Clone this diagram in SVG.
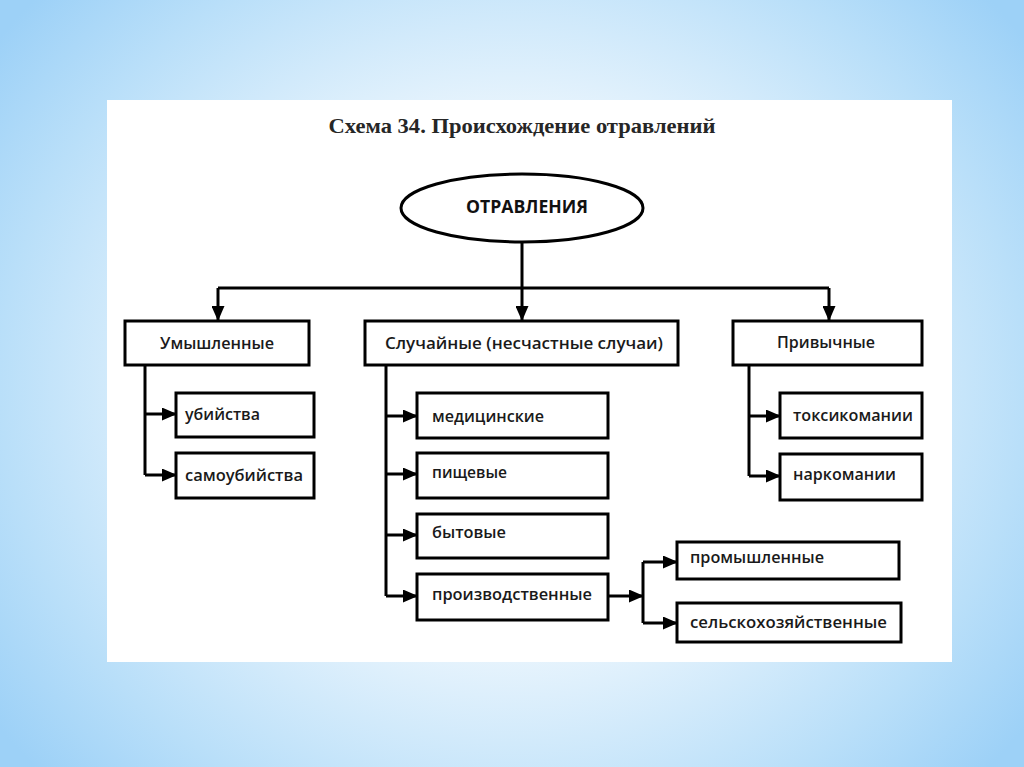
<svg xmlns="http://www.w3.org/2000/svg" width="1024" height="767" viewBox="0 0 1024 767">
<defs>
<radialGradient id="bg" cx="512" cy="383" r="640" gradientUnits="userSpaceOnUse" gradientTransform="translate(512 383) scale(1 0.9) translate(-512 -383)">
<stop offset="0" stop-color="#ffffff"/>
<stop offset="0.45" stop-color="#eaf5fd"/>
<stop offset="0.8" stop-color="#b9dff9"/>
<stop offset="1" stop-color="#9dd1f7"/>
</radialGradient>
<marker id="ah" viewBox="0 0 15 13" refX="14" refY="6.5" markerWidth="15" markerHeight="13" markerUnits="userSpaceOnUse" orient="auto">
<path d="M0,0 L15,6.5 L0,13 Z" fill="#000"/>
</marker>
<style>
.box{fill:#fff;stroke:#000;stroke-width:3}
.ln{fill:none;stroke:#000;stroke-width:3}
.arr{fill:none;stroke:#000;stroke-width:3;marker-end:url(#ah)}
.t{font-family:"Open Sans","Liberation Sans",sans-serif;font-size:16px;font-weight:600;fill:#1a1a1a}
.c{text-anchor:middle}
</style>
</defs>
<rect width="1024" height="767" fill="url(#bg)"/>
<rect x="107" y="100" width="845" height="562" fill="#fff"/>
<text x="522" y="133" text-anchor="middle" font-family="Liberation Serif, serif" font-weight="bold" font-size="21" fill="#262626" textLength="387" lengthAdjust="spacingAndGlyphs">Схема 34. Происхождение отравлений</text>

<g id="connectors">
<path class="ln" d="M218,288 H829"/>
<path class="arr" d="M522,242 V320"/>
<path class="arr" d="M218,288 V320"/>
<path class="arr" d="M829,288 V320"/>
<path class="ln" d="M145,365 V475"/>
<path class="arr" d="M145,414 H176"/>
<path class="arr" d="M145,475 H176"/>
<path class="ln" d="M386,365 V596"/>
<path class="arr" d="M386,416 H417"/>
<path class="arr" d="M386,474 H417"/>
<path class="arr" d="M386,535 H417"/>
<path class="arr" d="M386,596 H417"/>
<path class="arr" d="M608,596 H643"/>
<path class="ln" d="M643,562 V623"/>
<path class="arr" d="M643,562 H677"/>
<path class="arr" d="M643,623 H677"/>
<path class="ln" d="M749,365 V476"/>
<path class="arr" d="M749,416 H780"/>
<path class="arr" d="M749,476 H780"/>
</g>

<g id="root">
<ellipse cx="522" cy="208" rx="121" ry="34" fill="#fff" stroke="#000" stroke-width="3"/>
<text x="527" y="213" text-anchor="middle" font-family="Open Sans, Liberation Sans, sans-serif" font-weight="bold" font-size="18" fill="#111" textLength="122" lengthAdjust="spacingAndGlyphs">ОТРАВЛЕНИЯ</text>
</g>

<g id="n-umysh"><rect class="box" x="125" y="321" width="184" height="44"/><text class="t" x="160" y="349" textLength="114" lengthAdjust="spacingAndGlyphs">Умышленные</text></g>
<g id="n-ubiystva"><rect class="box" x="176" y="393" width="138" height="44"/><text class="t" x="185" y="420" textLength="75" lengthAdjust="spacingAndGlyphs">убийства</text></g>
<g id="n-samoub"><rect class="box" x="176" y="453" width="138" height="45"/><text class="t" x="185" y="481" textLength="118" lengthAdjust="spacingAndGlyphs">самоубийства</text></g>

<g id="n-sluch"><rect class="box" x="365" y="321" width="313" height="44"/><text class="t" x="385" y="349" textLength="278" lengthAdjust="spacingAndGlyphs">Случайные (несчастные случаи)</text></g>
<g id="n-med"><rect class="box" x="417" y="393" width="191" height="45"/><text class="t" x="432" y="422" textLength="112" lengthAdjust="spacingAndGlyphs">медицинские</text></g>
<g id="n-pish"><rect class="box" x="417" y="453" width="191" height="45"/><text class="t" x="432" y="478" textLength="75" lengthAdjust="spacingAndGlyphs">пищевые</text></g>
<g id="n-byt"><rect class="box" x="417" y="514" width="191" height="44"/><text class="t" x="432" y="538" textLength="74" lengthAdjust="spacingAndGlyphs">бытовые</text></g>
<g id="n-proizv"><rect class="box" x="417" y="574" width="191" height="46"/><text class="t" x="432" y="600" textLength="160" lengthAdjust="spacingAndGlyphs">производственные</text></g>
<g id="n-prom"><rect class="box" x="677" y="542" width="222" height="37"/><text class="t" x="690" y="563" textLength="134" lengthAdjust="spacingAndGlyphs">промышленные</text></g>
<g id="n-selsk"><rect class="box" x="677" y="603" width="224" height="39"/><text class="t" x="690" y="628" textLength="197" lengthAdjust="spacingAndGlyphs">сельскохозяйственные</text></g>

<g id="n-privych"><rect class="box" x="733" y="321" width="189" height="44"/><text class="t" x="777" y="348" textLength="98" lengthAdjust="spacingAndGlyphs">Привычные</text></g>
<g id="n-toks"><rect class="box" x="780" y="393" width="142" height="45"/><text class="t" x="793" y="421" textLength="120" lengthAdjust="spacingAndGlyphs">токсикомании</text></g>
<g id="n-nark"><rect class="box" x="780" y="454" width="142" height="46"/><text class="t" x="793" y="480" textLength="103" lengthAdjust="spacingAndGlyphs">наркомании</text></g>
</svg>
